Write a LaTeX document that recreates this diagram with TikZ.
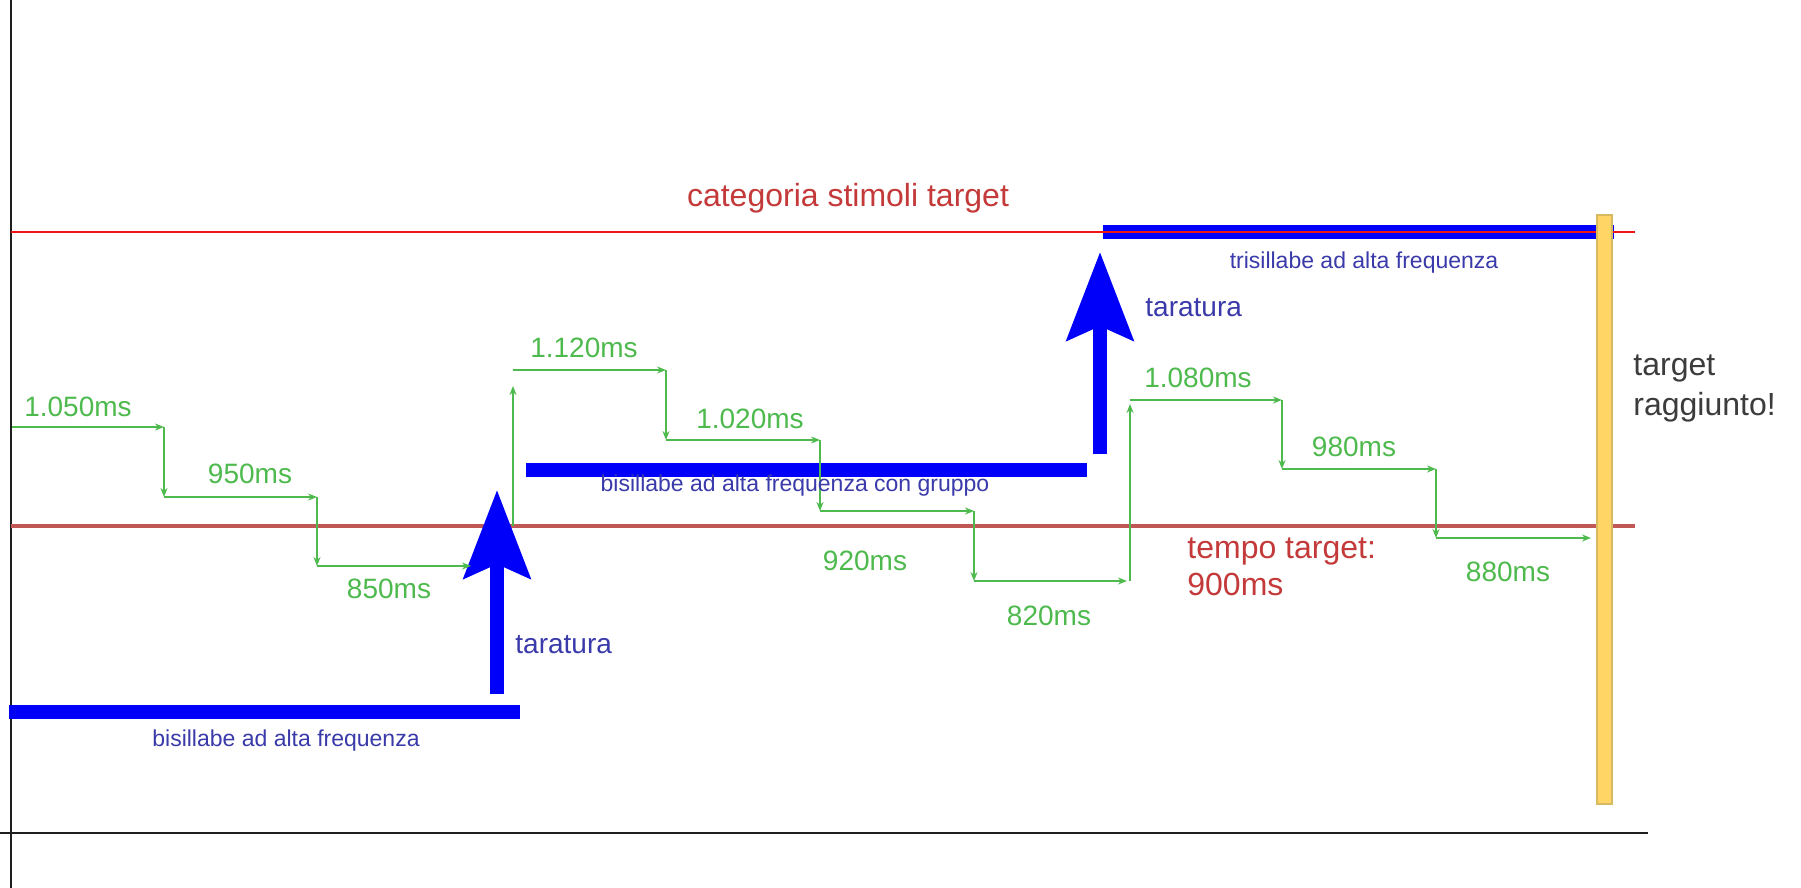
\documentclass[tikz,border=0pt]{standalone}
\usepackage{fontspec}
\setmainfont{Liberation Sans}
\usetikzlibrary{arrows.meta}
\definecolor{stepgreen}{RGB}{78,186,78}
\definecolor{barblue}{RGB}{0,0,250}
\definecolor{txtblue}{RGB}{58,58,170}
\definecolor{catred}{RGB}{196,58,58}
\definecolor{topred}{RGB}{240,20,20}
\definecolor{tgtred}{RGB}{192,88,86}
\definecolor{goldbar}{RGB}{255,214,102}
\definecolor{goldedge}{RGB}{215,185,95}
\definecolor{axisgray}{RGB}{30,30,30}
\definecolor{noteGray}{RGB}{60,60,60}
\begin{document}
\begin{tikzpicture}[x=0.5pt,y=-0.5pt,
  axisline/.style={draw=axisgray, line width=1pt},
  greenstep/.style={draw=stepgreen, line width=0.9pt, -{Stealth[length=4.5pt,width=3.5pt]}},
  greenlbl/.style={text=stepgreen, font=\fontsize{14}{16}\selectfont, inner sep=0pt},
  bluebar/.style={draw=barblue, line width=7pt},
  bigarrow/.style={draw=barblue, line width=7pt, -{Stealth[length=44pt,width=33pt,inset=7pt]}},
  bluelbl/.style={text=txtblue, font=\fontsize{11.5}{13}\selectfont, inner sep=0pt},
  taralbl/.style={text=txtblue, font=\fontsize{14}{16}\selectfont, inner sep=0pt, anchor=west},
  redlbl/.style={text=catred, font=\fontsize{16}{18.5}\selectfont, inner sep=0pt}
]
\useasboundingbox (0,0) rectangle (1801,888);
\fill[white] (0,0) rectangle (1801,888);

% axes
\coordinate (ytop) at (11,0);
\coordinate (ybot) at (11,888);
\coordinate (xl) at (0,833);
\coordinate (xr) at (1648,833);
\draw[axisline] (ytop) -- (ybot);
\draw[axisline] (xl) -- (xr);

% blue bars
\coordinate (b1l) at (9,712);   \coordinate (b1r) at (520,712);
\coordinate (b2l) at (526,470); \coordinate (b2r) at (1087,470);
\coordinate (b3l) at (1103,232); \coordinate (b3r) at (1614,232);
\draw[bluebar] (b1l) -- (b1r);
\draw[bluebar] (b2l) -- (b2r);
\draw[bluebar] (b3l) -- (b3r);

% reference lines
\coordinate (rtl) at (11,232);  \coordinate (rtr) at (1635,232);
\coordinate (ttl) at (11,526);  \coordinate (ttr) at (1635,526);
\draw[draw=topred, line width=1pt] (rtl) -- (rtr);
\draw[draw=tgtred, line width=1.8pt] (ttl) -- (ttr);

% big arrows
\coordinate (a1s) at (497,694); \coordinate (a1e) at (497,490);
\coordinate (a2s) at (1100,454); \coordinate (a2e) at (1100,252);
\draw[bigarrow] (a1s) -- (a1e);
\draw[bigarrow] (a2s) -- (a2e);

% green steps
\coordinate (g0) at (12,427);  \coordinate (g1) at (164,427);
\coordinate (g2) at (164,497); \coordinate (g3) at (317,497);
\coordinate (g4) at (317,566); \coordinate (g5) at (471,566);
\draw[greenstep] (g0) -- (g1);
\draw[greenstep] (g1) -- (g2);
\draw[greenstep] (g2) -- (g3);
\draw[greenstep] (g3) -- (g4);
\draw[greenstep] (g4) -- (g5);
\coordinate (h0) at (513,526); \coordinate (h1) at (513,386);
\coordinate (h2) at (513,370); \coordinate (h3) at (666,370);
\coordinate (h4) at (666,440); \coordinate (h5) at (820,440);
\coordinate (h6) at (820,511); \coordinate (h7) at (974,511);
\coordinate (h8) at (974,581); \coordinate (h9) at (1127,581);
\draw[greenstep] (h0) -- (h1);
\draw[greenstep] (h2) -- (h3);
\draw[greenstep] (h3) -- (h4);
\draw[greenstep] (h4) -- (h5);
\draw[greenstep] (h5) -- (h6);
\draw[greenstep] (h6) -- (h7);
\draw[greenstep] (h7) -- (h8);
\draw[greenstep] (h8) -- (h9);
\coordinate (k0) at (1130,581); \coordinate (k1) at (1130,404);
\coordinate (k2) at (1130,400); \coordinate (k3) at (1282,400);
\coordinate (k4) at (1282,469); \coordinate (k5) at (1436,469);
\coordinate (k6) at (1436,538); \coordinate (k7) at (1591,538);
\draw[greenstep] (k0) -- (k1);
\draw[greenstep] (k2) -- (k3);
\draw[greenstep] (k3) -- (k4);
\draw[greenstep] (k4) -- (k5);
\draw[greenstep] (k5) -- (k6);
\draw[greenstep] (k6) -- (k7);

% yellow target bar
\filldraw[fill=goldbar, draw=goldedge, line width=0.6pt] (1597,215) rectangle (1612,804);

% labels
\node[greenlbl] (l1050) at (78,407) {1.050ms};
\node[greenlbl] (l950) at (250,474) {950ms};
\node[greenlbl] (l850) at (389,589) {850ms};
\node[greenlbl] (l1120) at (584,348) {1.120ms};
\node[greenlbl] (l1020) at (750,419) {1.020ms};
\node[greenlbl] (l920) at (865,561) {920ms};
\node[greenlbl] (l820) at (1049,616) {820ms};
\node[greenlbl] (l1080) at (1198,378) {1.080ms};
\node[greenlbl] (l980) at (1354,447) {980ms};
\node[greenlbl] (l880) at (1508,572) {880ms};

\node[bluelbl] (t1) at (286,741) {bisillabe ad alta frequenza};
\node[bluelbl] (t2) at (795,486) {bisillabe ad alta frequenza con gruppo};
\node[bluelbl] (t3) at (1364,263) {trisillabe ad alta frequenza};

\node[taralbl] (tar1) at (515,645) {taratura};
\node[taralbl] (tar2) at (1145,308) {taratura};

\node[redlbl] (cat) at (848,198) {categoria stimoli target};
\node[redlbl, align=left, anchor=west] (tt) at (1187,567) {tempo target:\\900ms};
\node[text=noteGray, font=\fontsize{16}{20}\selectfont, inner sep=0pt, align=left, anchor=west] (tr) at (1633,388) {target\\raggiunto!};
\end{tikzpicture}
\end{document}
